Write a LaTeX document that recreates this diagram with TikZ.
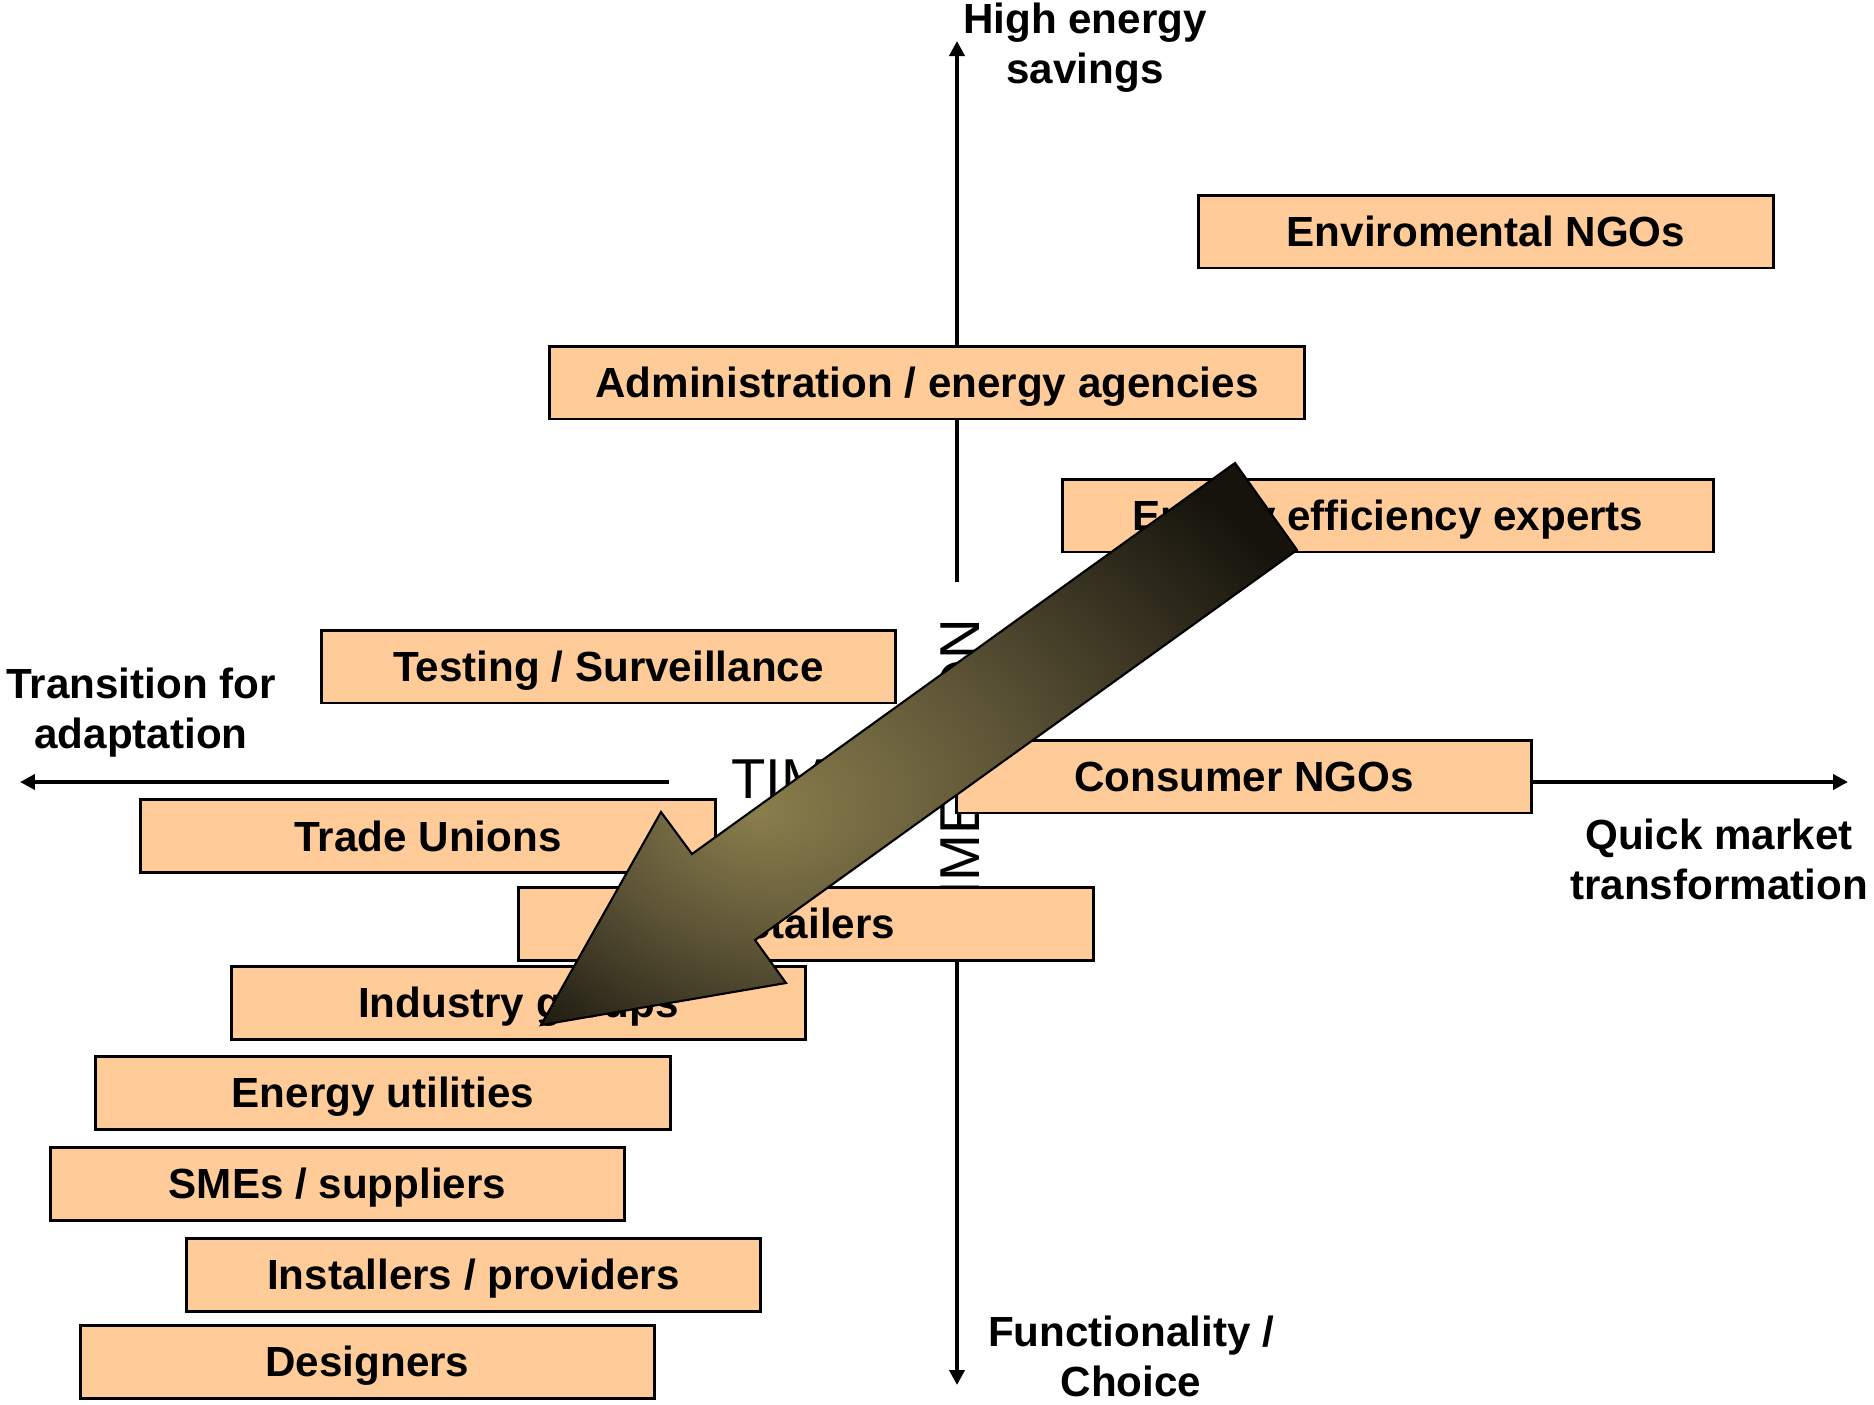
\documentclass[tikz,border=0pt]{standalone}
\usepackage{fontspec}
\setmainfont{Liberation Sans}
\usetikzlibrary{arrows.meta}
\definecolor{boxfill}{HTML}{FFCC99}
\definecolor{arrowlight}{HTML}{8A7E4C}
\definecolor{arrowmid}{HTML}{5E5537}
\definecolor{arrowdark}{HTML}{15130C}
\pgfdeclareradialshading{arrowglow}{\pgfpoint{-11bp}{-6bp}}{color(0bp)=(arrowlight); color(14bp)=(arrowmid); color(33bp)=(arrowdark); color(50bp)=(arrowdark)}
\tikzset{
  actor/.style={draw=black, line width=1.7pt, fill=boxfill, minimum width=11.5cm,
    minimum height=1.46cm, inner sep=0pt, text height=0.6cm, text depth=0pt,
    font=\bfseries\fontsize{24}{28.5}\selectfont},
  axislabel/.style={align=center, inner sep=0pt, font=\bfseries\fontsize{24}{28.5}\selectfont},
  axis/.style={line width=2.5pt, -{Triangle[length=0.3cm,width=0.3cm]}},
  timetext/.style={inner sep=0pt, font=\fontsize{32}{36}\selectfont}
}
\begin{document}
\begin{tikzpicture}[x=0.02cm, y=-0.02cm]
      \useasboundingbox (0,0) rectangle (1874,1404);
      % axes
      \coordinate (ntip) at (957,41);
      \coordinate (stip) at (957,1385);
      \coordinate (wtip) at (20,782);
      \coordinate (etip) at (1848,782);
      \coordinate (vupper) at (957,582);
      \coordinate (vlower) at (957,900);
      \coordinate (hleft) at (669,782);
      \coordinate (hright) at (1400,782);
      \draw[axis] (vupper) -- (ntip);
      \draw[axis] (vlower) -- (stip);
      \draw[axis] (hleft) -- (wtip);
      \draw[axis] (hright) -- (etip);
      \node[timetext, anchor=west] (timeword) at (731,779) {TIME};
      \node[timetext, rotate=90] (dimword) at (960,778) {DIMENSION};
      \node[axislabel] (highsav) at (1085,48) {High energy\\savings};
      \node[axislabel] (transit) at (141,713) {Transition for\\adaptation};
      \node[axislabel] (quickmkt) at (1719,859) {Quick market\\transformation};
      \node[axislabel] (function) at (1131,1356) {Functionality /\\Choice};
      % stakeholders
      \node[actor] (envngo) at (1486,231.5) {Enviromental NGOs};
      \node[actor, minimum width=15.12cm] (admin) at (927,382.5) {Administration / energy agencies};
      \node[actor, minimum width=13.04cm] (experts) at (1388,515.5) {Energy efficiency experts};
      \node[actor] (testing) at (608.5,666.5) {Testing / Surveillance};
      \node[actor] (consumer) at (1244,776.5) {Consumer NGOs};
      \node[actor] (unions) at (428,836) {Trade Unions};
      \node[actor] (retailers) at (806,923.5) {Retailers};
      \node[actor] (industry) at (518.5,1002.5) {Industry groups};
      \node[actor] (utilities) at (383,1092.5) {Energy utilities};
      \node[actor] (smes) at (337.5,1183.5) {SMEs / suppliers};
      \node[actor] (installers) at (473.5,1274.5) {Installers / providers};
      \node[actor] (designers) at (367.5,1361.5) {Designers};
      % big arrow
      \coordinate (tailA) at (1235,463);
      \coordinate (tailB) at (1297,550);
      \coordinate (shaftR) at (755,940);
      \coordinate (barbR) at (786,983);
      \coordinate (tip) at (541,1025);
      \coordinate (barbL) at (661,812);
      \coordinate (shaftL) at (692,854);
      \draw[draw=black, line width=1.2pt, shading=arrowglow]
        (tailA) -- (tailB) -- (shaftR) -- (barbR) -- (tip) -- (barbL) -- (shaftL) -- cycle;
\end{tikzpicture}
\end{document}
